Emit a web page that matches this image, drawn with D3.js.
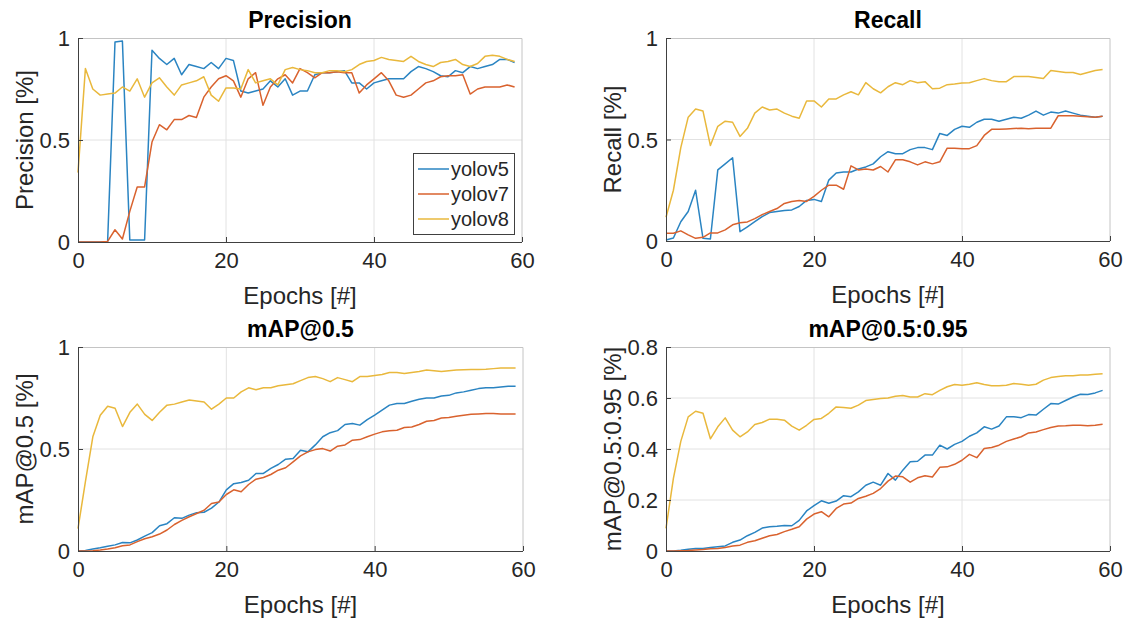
<!DOCTYPE html>
<html>
<head>
<meta charset="utf-8">
<script src="https://cdn.jsdelivr.net/npm/d3@7"></script>
<style>
  body { margin: 0; background: #fff; }
  svg { display: block; font-family: "Liberation Sans", Arial, Helvetica, sans-serif; }
</style>
</head>
<body>
<div id="chart"></div>
<script>
// epochs 0..59 on the x axis
const epochs = d3.range(0, 60);
const models = ["yolov5", "yolov7", "yolov8"];
const colors = ["#2a84c2", "#d9622e", "#e9b83c"];

const precisionV5 = [0,0,0,0,0,0.98,0.985,0.01,0.01,0.01,0.94,0.90,0.87,0.90,0.82,0.87,0.86,0.85,0.88,0.85,0.90,0.89,0.74,0.73,0.74,0.75,0.79,0.76,0.80,0.72,0.74,0.74,0.82,0.83,0.83,0.835,0.84,0.78,0.78,0.75,0.78,0.79,0.80,0.80,0.80,0.835,0.86,0.85,0.835,0.815,0.81,0.84,0.83,0.86,0.85,0.86,0.87,0.895,0.895,0.88];
const precisionV7 = [0,0,0,0,0.003,0.06,0.015,0.15,0.27,0.27,0.49,0.575,0.55,0.60,0.60,0.62,0.61,0.71,0.76,0.80,0.815,0.79,0.71,0.80,0.83,0.67,0.76,0.80,0.82,0.78,0.85,0.83,0.805,0.83,0.83,0.835,0.83,0.83,0.73,0.77,0.80,0.83,0.79,0.72,0.71,0.72,0.75,0.78,0.79,0.81,0.815,0.815,0.82,0.725,0.75,0.76,0.76,0.76,0.77,0.76];
const precisionV8 = [0.34,0.85,0.75,0.72,0.725,0.73,0.76,0.74,0.80,0.71,0.78,0.805,0.76,0.72,0.77,0.78,0.79,0.81,0.72,0.69,0.755,0.755,0.75,0.845,0.78,0.79,0.80,0.77,0.845,0.855,0.845,0.84,0.83,0.83,0.84,0.84,0.835,0.845,0.87,0.885,0.89,0.905,0.895,0.89,0.885,0.91,0.885,0.87,0.86,0.88,0.885,0.895,0.87,0.86,0.875,0.91,0.915,0.91,0.895,0.885];

const recallV5 = [0.005,0.015,0.095,0.145,0.25,0.013,0.01,0.35,0.38,0.41,0.046,0.07,0.095,0.12,0.14,0.145,0.15,0.153,0.17,0.20,0.205,0.195,0.30,0.335,0.34,0.34,0.355,0.365,0.38,0.415,0.44,0.43,0.43,0.45,0.46,0.46,0.45,0.53,0.52,0.55,0.565,0.56,0.585,0.60,0.60,0.59,0.60,0.61,0.605,0.62,0.64,0.62,0.635,0.63,0.64,0.63,0.62,0.615,0.61,0.615];
const recallV7 = [0.038,0.038,0.05,0.03,0.013,0.018,0.04,0.04,0.055,0.08,0.09,0.094,0.11,0.13,0.145,0.16,0.185,0.195,0.20,0.195,0.22,0.25,0.275,0.275,0.255,0.37,0.35,0.355,0.35,0.367,0.34,0.40,0.40,0.39,0.375,0.39,0.38,0.39,0.457,0.457,0.455,0.455,0.47,0.52,0.55,0.55,0.552,0.554,0.556,0.553,0.555,0.556,0.556,0.617,0.617,0.617,0.615,0.612,0.61,0.615];
const recallV8 = [0.117,0.25,0.46,0.61,0.65,0.64,0.47,0.565,0.59,0.585,0.515,0.555,0.63,0.66,0.645,0.65,0.63,0.615,0.605,0.69,0.69,0.66,0.70,0.70,0.72,0.735,0.72,0.78,0.75,0.73,0.76,0.78,0.77,0.79,0.78,0.785,0.75,0.753,0.77,0.773,0.778,0.78,0.79,0.80,0.79,0.785,0.785,0.81,0.81,0.81,0.805,0.80,0.84,0.835,0.83,0.83,0.82,0.83,0.84,0.845];

const map50V5 = [0,0.003,0.01,0.016,0.023,0.03,0.042,0.04,0.054,0.073,0.09,0.124,0.134,0.163,0.16,0.176,0.188,0.19,0.21,0.24,0.30,0.33,0.336,0.347,0.38,0.38,0.405,0.424,0.45,0.453,0.494,0.486,0.52,0.56,0.58,0.59,0.62,0.625,0.617,0.644,0.666,0.69,0.715,0.723,0.723,0.734,0.744,0.75,0.75,0.76,0.763,0.775,0.78,0.788,0.796,0.80,0.80,0.804,0.807,0.807];
const map50V7 = [0,0,0.001,0.005,0.01,0.016,0.026,0.03,0.046,0.06,0.07,0.083,0.103,0.13,0.15,0.168,0.184,0.20,0.233,0.24,0.277,0.30,0.29,0.326,0.352,0.36,0.375,0.396,0.408,0.437,0.466,0.486,0.497,0.502,0.49,0.514,0.52,0.543,0.546,0.56,0.573,0.584,0.59,0.592,0.605,0.608,0.62,0.636,0.64,0.652,0.654,0.66,0.666,0.67,0.672,0.674,0.674,0.672,0.672,0.672];
const map50V8 = [0.11,0.34,0.56,0.665,0.71,0.70,0.61,0.68,0.72,0.67,0.64,0.68,0.715,0.72,0.73,0.74,0.735,0.73,0.695,0.72,0.75,0.75,0.78,0.80,0.79,0.80,0.80,0.81,0.815,0.82,0.835,0.85,0.855,0.845,0.83,0.85,0.84,0.83,0.855,0.855,0.86,0.865,0.875,0.875,0.87,0.875,0.88,0.887,0.884,0.88,0.884,0.887,0.889,0.89,0.89,0.891,0.894,0.897,0.897,0.897];

const map5095V5 = [0,0,0.003,0.007,0.01,0.01,0.014,0.017,0.02,0.034,0.043,0.06,0.073,0.09,0.095,0.097,0.10,0.099,0.12,0.157,0.178,0.197,0.187,0.196,0.217,0.213,0.232,0.258,0.27,0.258,0.304,0.278,0.317,0.35,0.352,0.376,0.376,0.415,0.40,0.418,0.43,0.45,0.463,0.487,0.478,0.49,0.526,0.526,0.523,0.535,0.533,0.556,0.578,0.576,0.59,0.604,0.615,0.614,0.62,0.63];
const map5095V7 = [0,0,0.001,0.002,0.004,0.006,0.009,0.01,0.014,0.02,0.023,0.034,0.04,0.05,0.06,0.065,0.076,0.085,0.095,0.125,0.145,0.154,0.134,0.167,0.184,0.188,0.206,0.215,0.226,0.245,0.274,0.294,0.291,0.27,0.287,0.295,0.29,0.328,0.33,0.34,0.356,0.379,0.366,0.402,0.406,0.415,0.43,0.439,0.448,0.463,0.467,0.476,0.484,0.49,0.491,0.493,0.493,0.491,0.493,0.497];
const map5095V8 = [0.089,0.285,0.43,0.526,0.548,0.54,0.44,0.487,0.522,0.474,0.448,0.467,0.496,0.504,0.517,0.517,0.513,0.49,0.474,0.493,0.516,0.52,0.54,0.565,0.563,0.56,0.572,0.59,0.594,0.598,0.60,0.607,0.61,0.604,0.604,0.617,0.613,0.63,0.644,0.653,0.65,0.654,0.66,0.653,0.648,0.648,0.65,0.657,0.654,0.65,0.654,0.67,0.68,0.684,0.687,0.687,0.69,0.69,0.693,0.695];

const xTicks = [0, 20, 40, 60];
const yTicksUnit = [0, 0.5, 1];
const yTicks095 = [0, 0.2, 0.4, 0.6, 0.8];

// panel setup (position on the page + what to draw)
const panels = [
  {title: "Precision", ylabel: "Precision [%]", series: [precisionV5, precisionV7, precisionV8], yMax: 1, yTicks: yTicksUnit, x: 78, y: 38, w: 444, h: 204, legend: true},
  {title: "Recall", ylabel: "Recall [%]", series: [recallV5, recallV7, recallV8], yMax: 1, yTicks: yTicksUnit, x: 666, y: 38, w: 444, h: 203},
  {title: "mAP@0.5", ylabel: "mAP@0.5 [%]", series: [map50V5, map50V7, map50V8], yMax: 1, yTicks: yTicksUnit, x: 78, y: 347, w: 445, h: 204},
  {title: "mAP@0.5:0.95", ylabel: "mAP@0.5:0.95 [%]", series: [map5095V5, map5095V7, map5095V8], yMax: 0.8, yTicks: yTicks095, x: 666, y: 347, w: 444, h: 204}
];

const svg = d3.select("#chart").append("svg")
  .attr("width", 1132)
  .attr("height", 623);

const textCol = "#262626";

panels.forEach(p => {
  const g = svg.append("g").attr("transform", `translate(${p.x},${p.y})`);
  const x = d3.scaleLinear().domain([0, 60]).range([0, p.w]);
  const y = d3.scaleLinear().domain([0, p.yMax]).range([p.h, 0]);

  // grid
  g.append("g").selectAll("line.vx")
    .data(xTicks.slice(1, -1))
    .join("line")
    .attr("x1", d => x(d)).attr("x2", d => x(d))
    .attr("y1", 0).attr("y2", p.h)
    .attr("stroke", "#e2e2e2").attr("stroke-width", 1);
  g.append("g").selectAll("line.hy")
    .data(p.yTicks.slice(1, -1))
    .join("line")
    .attr("x1", 0).attr("x2", p.w)
    .attr("y1", d => y(d)).attr("y2", d => y(d))
    .attr("stroke", "#e2e2e2").attr("stroke-width", 1);

  // box top/right (light)
  g.append("path")
    .attr("d", `M0,0.5H${p.w}V${p.h}`)
    .attr("fill", "none").attr("stroke", "#c4c4c4");

  // lines
  const line = d3.line()
    .x((d, i) => x(epochs[i]))
    .y(d => y(d));
  p.series.forEach((s, k) => {
    g.append("path")
      .datum(s)
      .attr("d", line)
      .attr("fill", "none")
      .attr("stroke", colors[k])
      .attr("stroke-width", 1.5)
      .attr("stroke-linejoin", "round");
  });

  // axes (ticks inward)
  const xAxis = d3.axisBottom(x).tickValues(xTicks).tickSize(-5).tickPadding(10).tickFormat(d3.format("d"));
  const yAxis = d3.axisLeft(y).tickValues(p.yTicks).tickSize(-5).tickPadding(11).tickFormat(d => d === 0 ? "0" : (d === 1 ? "1" : String(d)));

  const gx = g.append("g").attr("transform", `translate(0,${p.h})`).call(xAxis);
  const gy = g.append("g").call(yAxis);
  [gx, gy].forEach(a => {
    a.select(".domain").attr("stroke", "#404040").attr("d", a === gx ? `M0,0.5H${p.w}` : `M0.5,0V${p.h}`);
    a.selectAll(".tick line").attr("stroke", "#404040");
    a.selectAll(".tick text").attr("fill", textCol).style("font-size", "22px").style("font-family", "inherit");
  });
  gx.selectAll(".tick text").attr("dy", "0.71em").attr("y", 10);
  gy.selectAll(".tick text").attr("dy", "0.35em").attr("x", -8);

  // title
  g.append("text")
    .attr("x", p.w / 2).attr("y", -10)
    .attr("text-anchor", "middle")
    .attr("fill", "#000")
    .style("font-size", "23px").style("font-weight", "bold")
    .text(p.title);

  // x label
  g.append("text")
    .attr("x", p.w / 2).attr("y", p.h + 62)
    .attr("text-anchor", "middle")
    .attr("fill", textCol)
    .style("font-size", "24px")
    .text("Epochs [#]");

  // y label
  g.append("text")
    .attr("transform", `translate(${-45},${p.h / 2}) rotate(-90)`)
    .attr("text-anchor", "middle")
    .attr("fill", textCol)
    .style("font-size", "24px")
    .text(p.ylabel);

  if (p.legend) {
    const lg = g.append("g").attr("transform", `translate(${413 - p.x},${153 - p.y})`);
    lg.append("rect")
      .attr("x", 0.5).attr("y", 0.5)
      .attr("width", 101).attr("height", 81)
      .attr("fill", "#fff").attr("stroke", "#404040");
    models.forEach((m, k) => {
      const cy = 16 + k * 25;
      lg.append("line")
        .attr("x1", 5).attr("x2", 36)
        .attr("y1", cy).attr("y2", cy)
        .attr("stroke", colors[k]).attr("stroke-width", 1.5);
      lg.append("text")
        .attr("x", 38).attr("y", cy)
        .attr("dy", "0.35em")
        .attr("fill", textCol)
        .style("font-size", "20px")
        .text(m);
    });
  }
});
</script>
</body>
</html>
